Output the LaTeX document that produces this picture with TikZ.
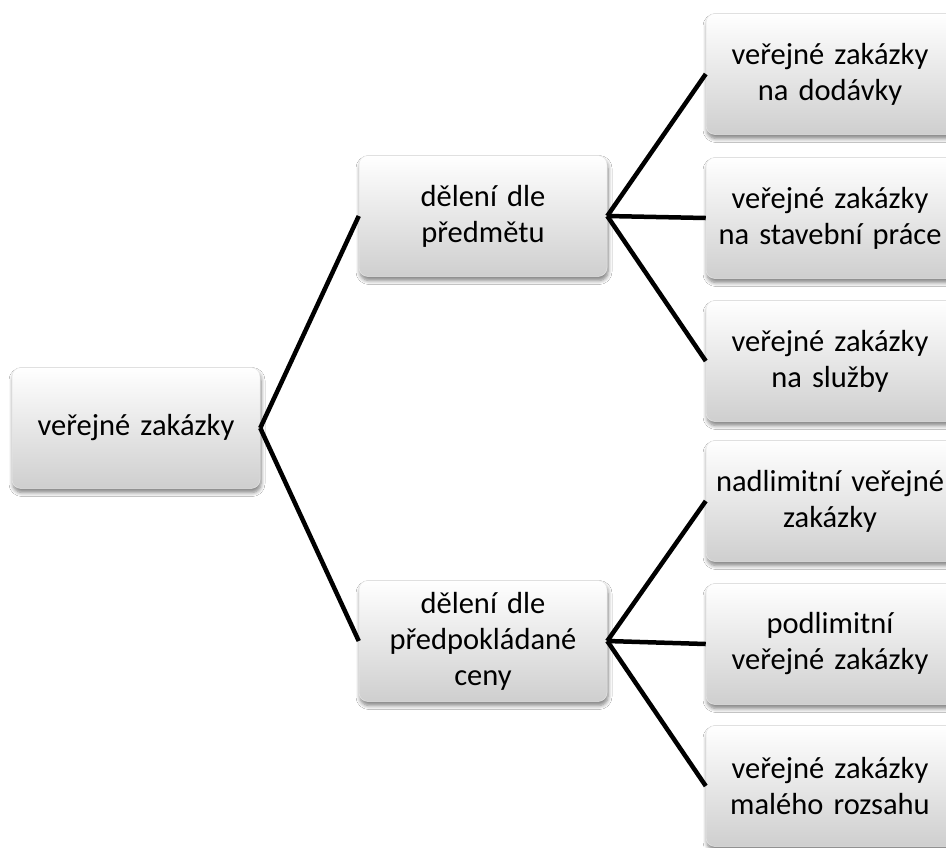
\documentclass[tikz,border=0pt]{standalone}
\usepackage{fontspec}
\setmainfont{Carlito}
\usetikzlibrary{shadows.blur}
\tikzset{
  card/.style={rounded corners=9pt, minimum width=248pt, minimum height=121pt,
    text width=238pt, inner sep=5pt, align=center,
    top color=white, bottom color=black!19, draw=black!10, line width=0.5pt,
    font=\fontsize{30.5}{36}\selectfont,
    blur shadow={shadow xshift=1pt, shadow yshift=-4pt, shadow blur steps=6,
      shadow opacity=50, shadow blur radius=4pt}},
  link/.style={line width=4.5pt, black},
}
\begin{document}
\begin{tikzpicture}[x=1pt, y=-1pt]
  \clip (0,0) rectangle (946,847);
  \fill[white] (0,0) rectangle (946,847);
  % tree of categories
  \node[card] (root) at (136,428) {veřejné zakázky};
  \node[card] (subj) at (483,216) {dělení dle\\předmětu};
  \node[card] (price) at (483,641) {dělení dle\\předpokládané\\ceny};
  \node[card] (l1) at (830,74)  {veřejné zakázky\\na dodávky};
  \node[card] (l2) at (830,218) {veřejné zakázky\\na stavební práce};
  \node[card] (l3) at (830,361) {veřejné zakázky\\na služby};
  \node[card] (l4) at (830,501) {nadlimitní veřejné\\zakázky};
  \node[card] (l5) at (830,644) {podlimitní\\veřejné zakázky};
  \node[card] (l6) at (830,786) {veřejné zakázky\\malého rozsahu};
  % connectors
  \draw[link] (root.east) -- (subj.west);
  \draw[link] (root.east) -- (price.west);
  \foreach \n in {l1,l2,l3} \draw[link] (subj.east) -- (\n.west);
  \foreach \n in {l4,l5,l6} \draw[link] (price.east) -- (\n.west);
\end{tikzpicture}
\end{document}
